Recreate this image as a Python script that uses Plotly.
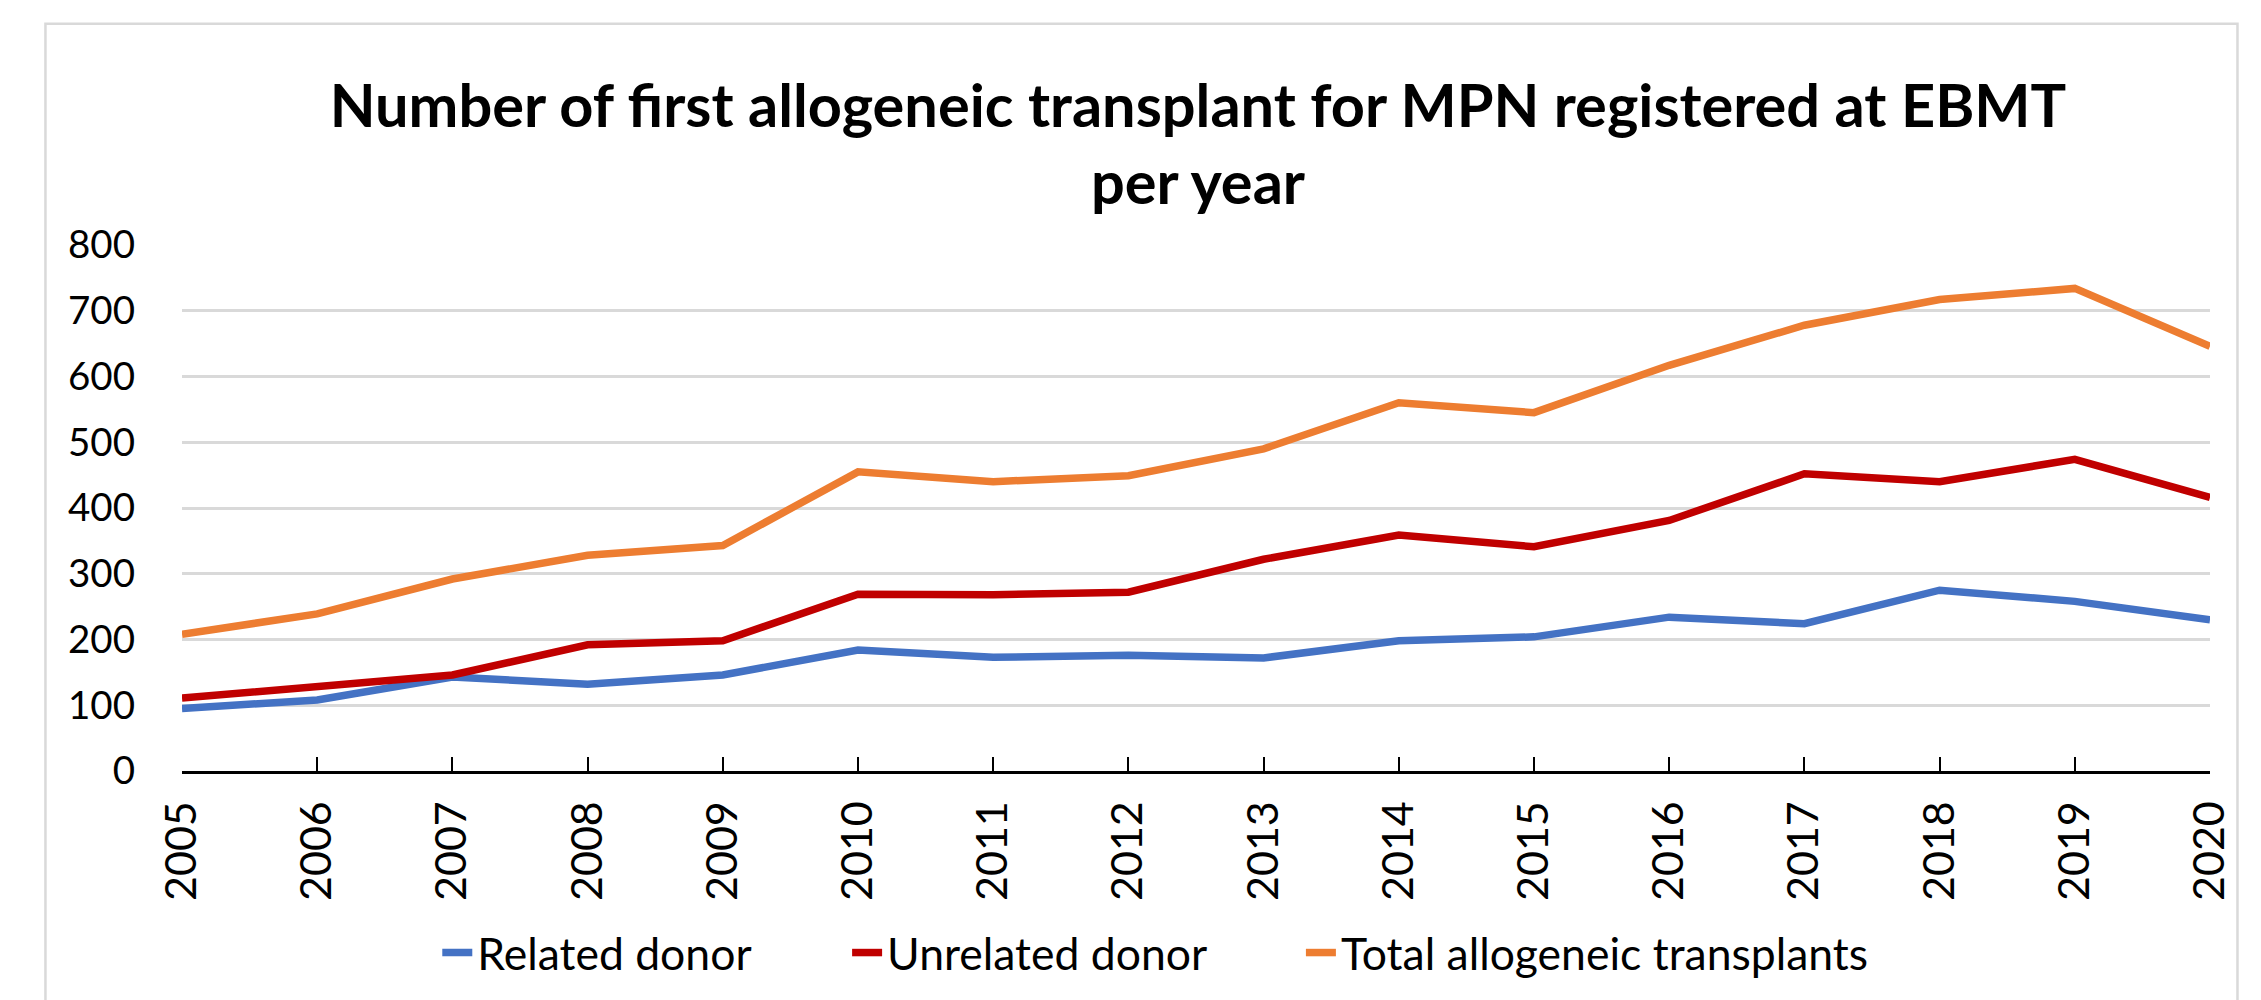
import plotly.graph_objects as go

years = list(range(2005, 2021))
year_labels = [str(y) for y in years]
related = [95, 108, 143, 132, 146, 184, 173, 176, 172, 198, 204, 234, 224, 275, 258, 230]
unrelated = [111, 129, 146, 192, 198, 269, 268, 272, 322, 359, 341, 381, 452, 440, 474, 416]
total = [208, 239, 292, 328, 343, 455, 440, 449, 490, 560, 545, 617, 678, 717, 734, 646]
series_names = ["Related donor", "Unrelated donor", "Total allogeneic transplants"]
colors = ["#4472C4", "#C00000", "#ED7D31"]
y_ticks = [0, 100, 200, 300, 400, 500, 600, 700, 800]

W, H = 2261, 1000
OFF = 8  # default body margin of the html page
FW, FH = W - OFF, H - OFF
L, R, T, B = 181.6, 2210.5, 245, 775
pw, ph = R - L, B - T

def px(x):
    return (x - L) / pw

def py(y):
    return (B - y) / ph

FONT = "Lato, Carlito, Calibri, sans-serif"

legend_names = ["legend", "legend2", "legend3"]
legend_text_x = [477, 887, 1341]

fig = go.Figure()
for name, vals, c, lg in zip(series_names, [related, unrelated, total], colors, legend_names):
    fig.add_trace(go.Scatter(x=years, y=vals, mode="lines", name=name, legend=lg,
                             line=dict(color=c, width=7.5)))

legend_common = dict(orientation="h", xanchor="left", y=py(958), yanchor="middle",
                     font=dict(size=44.5), bgcolor="rgba(0,0,0,0)", borderwidth=0)
legends = {}
for lg, tx in zip(legend_names, legend_text_x):
    legends[lg] = dict(x=px(tx - 40), **legend_common)

fig.update_layout(
    width=FW, height=FH,
    margin=dict(l=L - OFF, r=W - R, t=T - OFF, b=H - B, pad=0),
    plot_bgcolor="white", paper_bgcolor="white",
    font=dict(family=FONT, color="black", size=42),
    title=dict(text="<b>Number of first allogeneic transplant for MPN registered at EBMT<br>per year</b>",
               x=(1198 - OFF) / FW, xanchor="center", y=1 - 119 / FH, yanchor="top", yref="container",
               font=dict(size=59.5, family=FONT)),
    showlegend=True,
    xaxis=dict(range=[2005, 2020], tickvals=years, ticktext=year_labels, tickangle=-90,
               showgrid=False, zeroline=False, showline=True, linecolor="black", linewidth=3,
               ticks="inside", ticklen=14, tickwidth=2, tickcolor="black",
               tickfont=dict(size=43), ticklabelstandoff=10),
    yaxis=dict(range=[0, 800], tickvals=y_ticks, showgrid=True, gridcolor="#D9D9D9", gridwidth=2.5,
               zeroline=False, showline=False, ticks="", tickfont=dict(size=38.5),
               ticklabelstandoff=46),
    shapes=[dict(type="rect", xref="paper", yref="paper", x0=px(45), x1=px(2238), y0=py(1010), y1=py(22),
                 line=dict(color="#D9D9D9", width=2.5), fillcolor="rgba(0,0,0,0)", layer="below")],
    **legends,
)

fig.write_html("out.html")
